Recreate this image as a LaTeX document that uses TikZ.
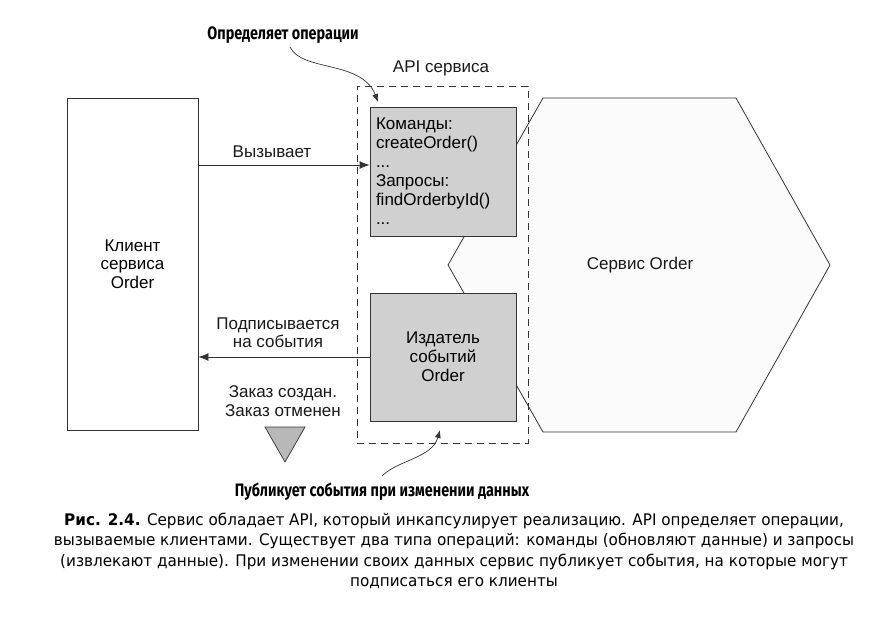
\documentclass[tikz,border=0pt]{standalone}
\usepackage{fontspec}
\setmainfont{Liberation Sans}
\newfontfamily\annfont[FakeStretch=0.8]{Fira Sans}
\newfontfamily\capfont[FakeStretch=0.95]{DejaVu Sans}
\usetikzlibrary{arrows.meta}
\definecolor{linec}{HTML}{333333}
\definecolor{boxgray}{HTML}{D0D0D0}
\definecolor{trigray}{HTML}{B8B8B8}
\definecolor{hexfill}{HTML}{FBFBFB}
\tikzset{
  txt/.style={font=\fontsize{17}{18.5}\selectfont, align=center, inner sep=0pt, text=black!90},
  plainbox/.style={draw=linec, line width=0.8pt, fill=white, inner sep=0pt, align=center,
    font=\fontsize{17}{18.5}\selectfont},
  graybox/.style={draw=linec, line width=0.8pt, fill=boxgray, inner sep=6pt,
    font=\fontsize{17}{19}\selectfont, minimum width=146pt, text width=134pt},
  apibox/.style={draw=linec, line width=0.8pt, dash pattern=on 7pt off 5pt, inner sep=0pt},
  hexstyle/.style={draw=linec, line width=0.8pt, fill=hexfill},
  arr/.style={draw=linec, line width=0.8pt, -{Latex[length=10pt,width=8pt]}},
  annarr/.style={draw=linec, line width=0.7pt, -{Latex[length=8pt,width=6pt]}},
  ann/.style={font=\annfont\bfseries\fontsize{18}{20}\selectfont, inner sep=0pt},
  captxt/.style={font=\capfont\fontsize{16}{20.3}\selectfont, align=center, inner sep=0pt},
  tri/.style={draw=linec, line width=0.7pt, fill=trigray}
}
\begin{document}
\begin{tikzpicture}[x=1pt,y=-1pt]
\useasboundingbox[fill=white] (0,0) rectangle (874,628);
% hexagon (service)
\draw[hexstyle] (543,98) -- (736,98) -- (830,265) -- (736,432) -- (543,432) -- (448,265) -- cycle;
\node[txt] (svc) at (640,265) {Сервис Order};
% client
\node[plainbox, minimum width=131pt, minimum height=332pt] (client) at (132.5,264) {Клиент\\сервиса\\Order};
% API boxes
\node[graybox, minimum height=129pt, align=left] (cmd) at (443,171.5)
  {Команды:\\createOrder()\\...\\Запросы:\\findOrderbyId()\\...};
\node[graybox, minimum height=128pt, align=center] (pub) at (443,357) {Издатель\\событий\\Order};
\node[apibox, minimum width=171pt, minimum height=357pt] (api) at (442.5,264.5) {};
\node[txt] (apilbl) at (441,68) {API сервиса};
% calls
\coordinate (callY) at (0,165);
\draw[arr] (client.east |- callY) -- (cmd.west |- callY);
\node[txt] (calllbl) at (272,152) {Вызывает};
\draw[arr] (pub.west) -- (client.east |- pub.west);
\node[txt] (sublbl) at (278,332.5) {Подписывается\\на события};
\node[txt] (evlbl) at (283,401) {Заказ создан.\\Заказ отменен};
\draw[tri] (265,427) -- (305,427) -- (285,462) -- cycle;
% annotations
\node[ann] (ann1) at (283,35) {Определяет операции};
\coordinate (ann1end) at (378,102);
\draw[annarr] (290,47) .. controls (302,72) and (362,60) .. (ann1end);
\node[ann] (ann2) at (382,492) {Публикует события при изменении данных};
\coordinate (ann2end) at (440,430);
\draw[annarr] (382,476) .. controls (398,460) and (432,458) .. (ann2end);
% caption
\node[captxt] (caption) at (454,551) {{\bfseries Рис. 2.4.} Сервис обладает API, который инкапсулирует реализацию. API определяет операции,\\
вызываемые клиентами. Существует два типа операций: команды (обновляют данные) и запросы\\
(извлекают данные). При изменении своих данных сервис публикует события, на которые могут\\
подписаться его клиенты};
\end{tikzpicture}
\end{document}
